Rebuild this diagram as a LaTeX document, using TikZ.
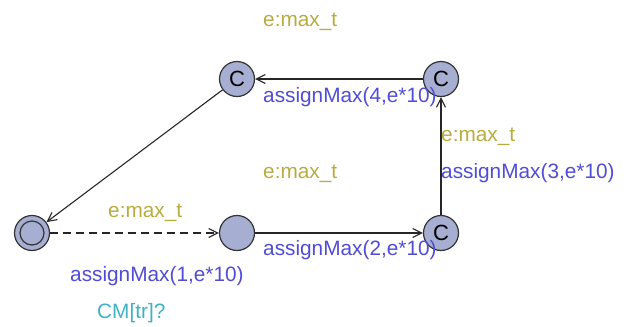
\documentclass[tikz,border=0pt]{standalone}
\usepackage{fontspec}
\setmainfont{Liberation Sans}
\usetikzlibrary{arrows.meta}
\definecolor{locfill}{RGB}{166,174,210}
\definecolor{selcol}{RGB}{184,172,64}
\definecolor{updcol}{RGB}{80,76,214}
\definecolor{synccol}{RGB}{64,178,196}
\tikzset{
  loc/.style={circle, draw=black!80, line width=1.2pt, fill=locfill,
    minimum size=35pt, inner sep=0pt, font=\fontsize{22pt}{22pt}\selectfont},
  edge/.style={line width=1.1pt, draw=black!85,
    -{Straight Barb[length=9pt,width=9pt,line width=1.1pt]}},
  lbl/.style={anchor=base west, inner sep=0pt, font=\fontsize{20.8pt}{20.8pt}\selectfont},
  sel/.style={lbl, text=selcol},
  upd/.style={lbl, text=updcol},
  sync/.style={lbl, text=synccol},
}
\begin{document}
\begin{tikzpicture}[x=1pt,y=-1pt]
\useasboundingbox (0,0) rectangle (630,327);
% locations
\node[loc] (s0) at (32,233) {};
\draw[line width=1.2pt, draw=black!80] (s0.center) circle (12pt);
\node[loc] (s1) at (237,233) {};
\node[loc] (s2) at (441,233) {C};
\node[loc] (s3) at (441,79) {C};
\node[loc] (s4) at (237,79) {C};
% transitions
\draw[edge, dashed, dash pattern=on 8pt off 5pt] (s0) -- (s1);
\draw[edge] (s1) -- (s2);
\draw[edge] (s2) -- (s3);
\draw[edge] (s3) -- (s4);
\draw[edge] (s4) -- (s0);
% labels
\node[sel] (l1) at (263,26) {e:max\_t};
\node[upd] (l2) at (263,102) {assignMax(4,e*10)};
\node[sel] (l3) at (441,141) {e:max\_t};
\node[upd] (l4) at (441,178) {assignMax(3,e*10)};
\node[sel] (l5) at (263,178) {e:max\_t};
\node[sel] (l6) at (108,217) {e:max\_t};
\node[upd] (l7) at (263,255) {assignMax(2,e*10)};
\node[upd] (l8) at (70,281) {assignMax(1,e*10)};
\node[sync] (l9) at (97,318) {CM[tr]?};
\end{tikzpicture}
\end{document}
